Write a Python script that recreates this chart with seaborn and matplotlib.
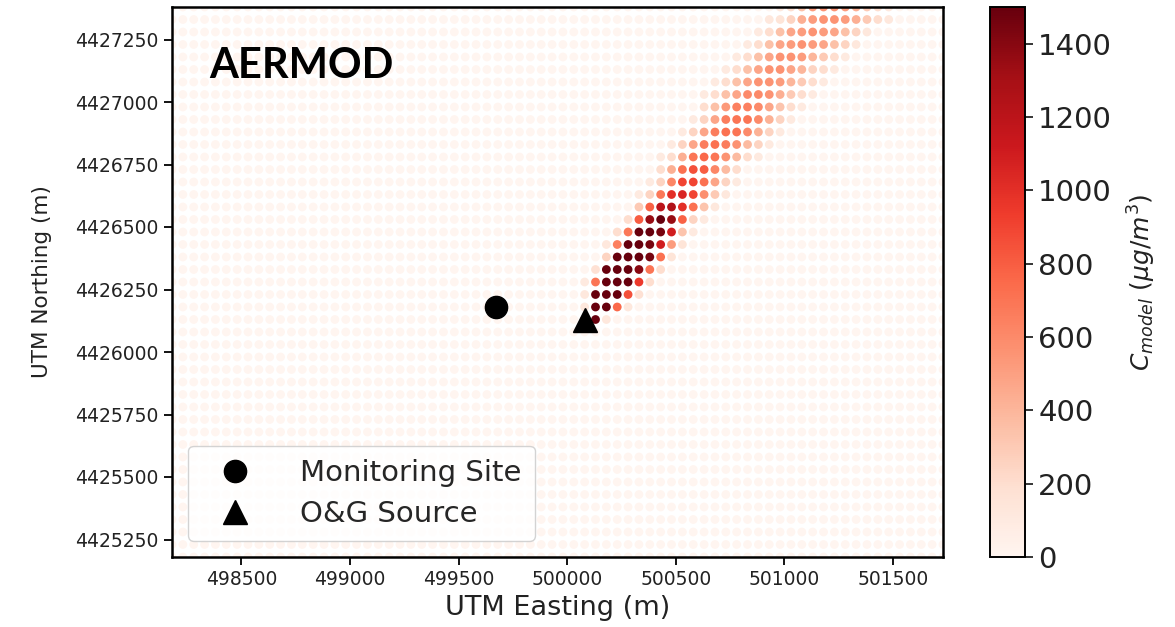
import numpy as np
import pandas as pd
import matplotlib
matplotlib.use("Agg")
import matplotlib.pyplot as plt
import seaborn as sns
from matplotlib.colors import Normalize
from matplotlib.cm import ScalarMappable

# ---- data -------------------------------------------------------------
# receptor grid: 50 m spacing, offsets counted in grid cells from the source
source_easting = 500080
source_northing = 4426130
site_easting = 499670
site_northing = 4426180
grid_spacing = 50
col_offsets = np.arange(-38, 34)
row_offsets = np.arange(-19, 26)

# modelled concentration (ug/m3) along the plume: for each grid row north of
# the source, the first column offset and the values going east from it.
# every other receptor is 0.
plume_row = [0, 1, 2, 3, 4, 5, 6, 7, 8, 9, 10, 11, 12,
             13, 14, 15, 16, 17, 18, 19, 20, 21, 22, 23, 24, 25]
plume_start = [0, 0, 0, 0, 1, 2, 2, 3, 4, 5, 5, 6, 7,
               7, 8, 9, 10, 11, 11, 12, 13, 14, 15, 16, 17, 18]
plume_values = [
    [1300, 1500, 120],
    [120, 1500, 1500, 750, 120],
    [120, 1500, 1500, 1500, 850, 180],
    [100, 700, 1500, 1500, 1500, 950, 200],
    [180, 1500, 1500, 1500, 1400, 700, 200],
    [250, 1500, 1500, 1500, 1450, 720, 150],
    [120, 650, 1500, 1500, 1450, 1100, 520, 150],
    [200, 680, 1500, 1500, 1450, 1100, 330, 100],
    [200, 800, 1350, 1500, 1350, 780, 250, 100],
    [300, 780, 1200, 1250, 1000, 720, 330, 120],
    [100, 250, 680, 1000, 1050, 900, 580, 300, 120],
    [100, 250, 620, 900, 900, 720, 480, 250, 100],
    [200, 430, 720, 850, 800, 620, 380, 200],
    [100, 200, 430, 700, 760, 700, 560, 380, 200, 100],
    [100, 250, 480, 660, 720, 660, 560, 380, 250, 100],
    [100, 250, 480, 660, 720, 700, 600, 420, 250, 100],
    [100, 250, 480, 660, 700, 700, 600, 420, 250, 100],
    [200, 350, 530, 650, 650, 600, 470, 330, 200, 100],
    [100, 200, 350, 480, 600, 600, 560, 430, 300, 200, 100],
    [100, 200, 350, 480, 560, 560, 520, 400, 300, 200, 100],
    [100, 200, 350, 480, 560, 560, 480, 400, 250, 200, 100],
    [100, 200, 350, 480, 560, 560, 520, 400, 300, 200, 100],
    [100, 200, 350, 480, 520, 560, 520, 480, 350, 250, 120],
    [100, 200, 350, 480, 520, 560, 520, 480, 350, 250, 120],
    [120, 150, 250, 430, 520, 560, 560, 520, 430, 300, 200, 120],
    [120, 200, 350, 520, 560, 560, 520, 430, 300, 200, 120],
]

x_ticks = [498500, 499000, 499500, 500000, 500500, 501000, 501500]
y_ticks = [4425250, 4425500, 4425750, 4426000, 4426250,
           4426500, 4426750, 4427000, 4427250]
cbar_ticks = [0, 200, 400, 600, 800, 1000, 1200, 1400]
c_max = 1500

# ---- build the receptor table ---------------------------------------
conc = np.zeros((len(row_offsets), len(col_offsets)))
for r, start, vals in zip(plume_row, plume_start, plume_values):
    ri = r - row_offsets[0]
    for i, v in enumerate(vals):
        conc[ri, start + i - col_offsets[0]] = v

cc, rr = np.meshgrid(col_offsets, row_offsets)
receptors = pd.DataFrame({
    "easting": source_easting + grid_spacing * cc.ravel(),
    "northing": source_northing + grid_spacing * rr.ravel(),
    "conc": conc.ravel(),
})

# ---- figure ------------------------------------------------------------
sns.set_theme(style="ticks")
plt.rcParams["font.family"] = ["DejaVu Sans"]
plt.rcParams["mathtext.fontset"] = "dejavusans"

fig = plt.figure(figsize=(11.75, 6.27), dpi=100)
ax = fig.add_axes([172 / 1175, 1 - 557 / 627, 771 / 1175, 550 / 627])

sns.scatterplot(data=receptors, x="easting", y="northing", hue="conc",
                palette="Reds", hue_norm=(0, c_max), s=40, linewidth=0,
                legend=False, ax=ax)

ax.plot(site_easting, site_northing, "o", color="black", ms=16,
        linestyle="none", label="Monitoring Site")
ax.plot(source_easting, source_northing, "^", color="black", ms=17,
        linestyle="none", label="O&G Source")

ax.set_xlim(receptors["easting"].min(), receptors["easting"].max())
ax.set_ylim(receptors["northing"].min(), receptors["northing"].max())
ax.set_xticks(x_ticks)
ax.set_yticks(y_ticks)
ax.ticklabel_format(useOffset=False, style="plain")
ax.tick_params(axis="both", labelsize=13.5, length=6, width=1.3,
               color="black", labelcolor="#222222")
for sp in ax.spines.values():
    sp.set_visible(True)
    sp.set_linewidth(1.8)
    sp.set_color("black")

ax.set_xlabel("UTM Easting (m)", fontsize=19.5, color="#222222", labelpad=4)
ax.set_ylabel("UTM Northing (m)", fontsize=15.5, color="#222222", labelpad=17)

ax.text(0.048, 0.892, "AERMOD", transform=ax.transAxes, fontsize=30,
        fontweight="bold", family=["Lato", "DejaVu Sans"], va="center",
        ha="left", color="black")

leg = ax.legend(loc="lower left", fontsize=21, handlelength=2.3,
                handletextpad=1.1, borderpad=0.45, labelspacing=0.45,
                borderaxespad=0.55, frameon=True, fancybox=True,
                framealpha=0.85, edgecolor="#cccccc")

# colour bar
cax = fig.add_axes([990 / 1175, 1 - 557 / 627, 35 / 1175, 550 / 627])
sm = ScalarMappable(norm=Normalize(0, c_max), cmap="Reds")
cb = fig.colorbar(sm, cax=cax, ticks=cbar_ticks)
cb.outline.set_linewidth(1.4)
cb.outline.set_edgecolor("black")
cax.tick_params(labelsize=21, length=6, width=1.3, labelcolor="#222222")
cb.set_label(r"$C_{model}$ $(\mu g/m^3)$", fontsize=18, color="#222222",
             labelpad=10)

fig.savefig("out.png", dpi=100)
